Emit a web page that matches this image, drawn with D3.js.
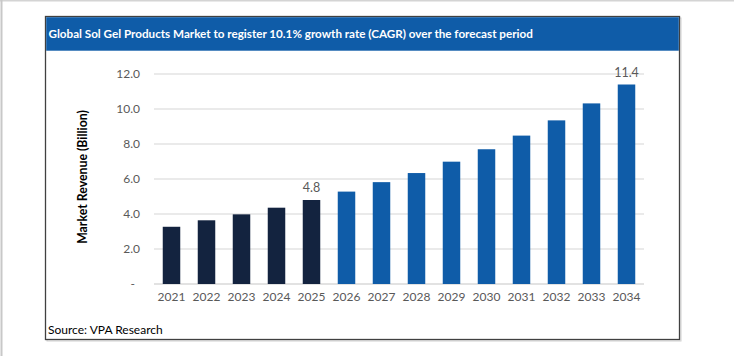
<!DOCTYPE html>
<html><head><meta charset="utf-8">
<script src="https://cdn.jsdelivr.net/npm/d3@7"></script>
<style>
html,body{margin:0;padding:0;background:#fff;}
svg{display:block;}
text{font-family:Lato,"Open Sans",sans-serif;}
</style></head>
<body>
<script>
const years = ["2021","2022","2023","2024","2025","2026","2027","2028","2029","2030","2031","2032","2033","2034"];
const revenue = [3.27, 3.64, 3.98, 4.36, 4.8, 5.28, 5.82, 6.34, 6.99, 7.70, 8.48, 9.35, 10.32, 11.4];
const historicYears = ["2021","2022","2023","2024","2025"];
const labelledYears = ["2025","2034"];
const yTicks = [0, 2, 4, 6, 8, 10, 12];
const titleText = "Global Sol Gel Products Market to register 10.1% growth rate (CAGR) over the forecast period";
const yAxisTitle = "Market Revenue (Billion)";
const sourceText = "Source: VPA Research";

const W = 734, H = 356;
const svg = d3.select("body").append("svg").attr("width", W).attr("height", H);

// page border lines
svg.append("rect").attr("x",0).attr("y",0).attr("width",W).attr("height",1.5).attr("fill","#d4d4d4");
svg.append("rect").attr("x",0.5).attr("y",0).attr("width",2).attr("height",H).attr("fill","#c8c8c8");

// box
const bx = 45.5, by = 16.5, bw = 634, bh = 323;
svg.append("rect").attr("x",bx+1.5).attr("y",by+1.5).attr("width",bw).attr("height",bh)
  .attr("fill","none").attr("stroke","#d0d0d0").attr("stroke-width",1);
svg.append("rect").attr("x",bx).attr("y",by).attr("width",bw).attr("height",bh)
  .attr("fill","#fff").attr("stroke","#404040").attr("stroke-width",1.3);
svg.append("rect").attr("x",bx+0.7).attr("y",by+0.7).attr("width",bw-1.4).attr("height",33.5)
  .attr("fill","#0f5ca8");

const title = svg.append("text").attr("x",48.5).attr("y",38).attr("fill","#fff")
  .attr("font-weight","bold").attr("font-size",12).text(titleText);
const tw = title.node().getComputedTextLength();
title.attr("font-size", 12*485/tw);

const margin = {left:154, right:644, top:74, bottom:284};
const x = d3.scaleBand().domain(years).range([margin.left, margin.right]).paddingInner(0.5).paddingOuter(0.25);
const y = d3.scaleLinear().domain([0,12]).range([margin.bottom, margin.top]);

// gridlines
svg.append("g").selectAll("line").data(yTicks).join("line")
  .attr("x1",margin.left).attr("x2",margin.right)
  .attr("y1",d=>y(d)).attr("y2",d=>y(d))
  .attr("stroke",d=>d===0?"#d9d9d9":"#e3e3e3").attr("stroke-width",1.3);

// y axis labels
const yAxis = d3.axisLeft(y).tickValues(yTicks).tickSize(0).tickPadding(0)
  .tickFormat(d=>d===0?"-":d3.format(".1f")(d));
const ya = svg.append("g").attr("transform","translate(140,0)").call(yAxis);
ya.select(".domain").remove();
ya.selectAll("text").attr("fill","#595959").attr("font-size",12)
  .attr("font-family","Lato,'Open Sans',sans-serif")
  .attr("dx",d=>d===0?-5:0);

// x axis labels
const xAxis = d3.axisBottom(x).tickSize(0).tickPadding(0);
const xa = svg.append("g").attr("transform","translate(0,292)").call(xAxis);
xa.select(".domain").remove();
xa.selectAll("text").attr("fill","#595959").attr("font-size",12)
  .attr("font-family","Lato,'Open Sans',sans-serif");

// bars
svg.append("g").selectAll("rect").data(years).join("rect")
  .attr("x",d=>x(d)).attr("width",x.bandwidth())
  .attr("y",(d,i)=>y(revenue[i])).attr("height",(d,i)=>y(0)-y(revenue[i]))
  .attr("fill",d=>historicYears.includes(d)?"#13233f":"#0f5ca8");

// data labels
svg.append("g").selectAll("text").data(labelledYears).join("text")
  .attr("x",d=>x(d)+x.bandwidth()/2)
  .attr("y",d=>y(revenue[years.indexOf(d)])-8)
  .attr("text-anchor","middle").attr("fill","#595959").attr("font-size",12.5)
  .text(d=>d3.format(".1f")(revenue[years.indexOf(d)]));

// y axis title
svg.append("text").attr("transform","translate(87,177) rotate(-90)")
  .attr("text-anchor","middle").attr("font-weight","bold").attr("font-size",12.3)
  .attr("fill","#000").text(yAxisTitle);

// source
svg.append("text").attr("x",48).attr("y",334).attr("font-size",12).attr("fill","#000").text(sourceText);
</script>
</body></html>
